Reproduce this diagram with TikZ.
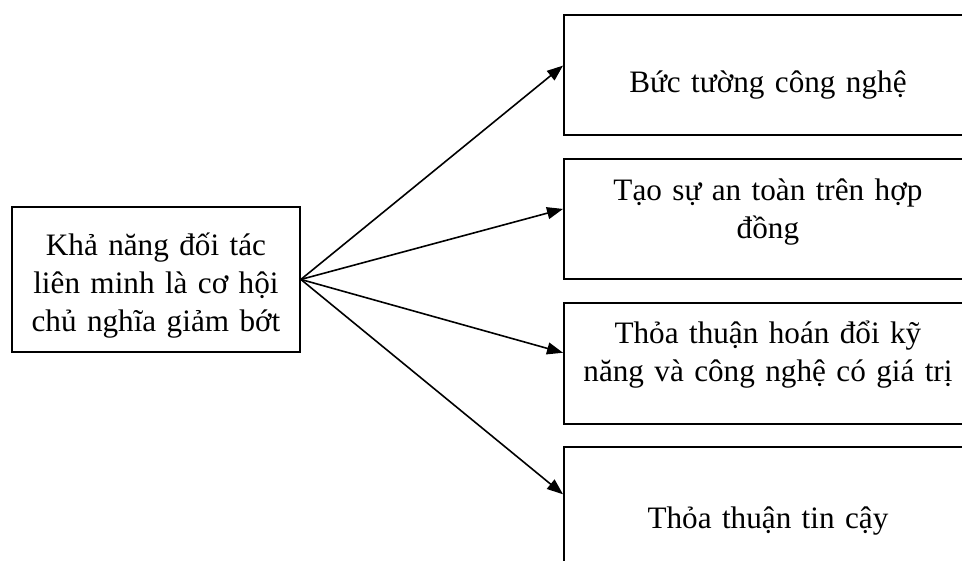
\documentclass[tikz,border=0pt]{standalone}
\usepackage{fontspec}
\setmainfont{Liberation Serif}
\usetikzlibrary{arrows.meta}

\begin{document}
\begin{tikzpicture}[
  x=0.75pt, y=-0.75pt,
  box/.style={draw, line width=1.4pt, inner sep=0pt, anchor=north west,
    text width=306pt, align=center, font=\fontsize{23.4}{28.5}\selectfont},
  arr/.style={-{Triangle[length=12pt,width=9pt]}, line width=1.2pt}
]
  \clip (0,0) rectangle (962,560);
  % source box on the left
  \node[box, text width=216pt, text height=36.75pt, text depth=72pt] (goal)
    at (11,206) {Khả năng đối tác\\liên minh là cơ hội\\chủ nghĩa giảm bớt};
  % the four outcomes, running off the right edge
  \node[box, text height=58.5pt, text depth=31.5pt] (wall) at (563,14)
    {Bức tường công nghệ};
  \node[box, text height=31.5pt, text depth=58.5pt] (contract) at (563,158)
    {Tạo sự an toàn trên hợp\\đồng};
  \node[box, text height=30.75pt, text depth=60pt] (swap) at (563,302)
    {Thỏa thuận hoán đổi kỹ\\năng và công nghệ có giá trị};
  \node[box, text height=61.5pt, text depth=28.5pt] (trust) at (563,446)
    {Thỏa thuận tin cậy};
  \draw[arr] (goal.east) -- ([yshift=7pt]wall.west);
  \draw[arr] (goal.east) -- ([yshift=7.5pt]contract.west);
  \draw[arr] (goal.east) -- ([yshift=8pt]swap.west);
  \draw[arr] (goal.east) -- ([yshift=9.5pt]trust.west);
\end{tikzpicture}
\end{document}
